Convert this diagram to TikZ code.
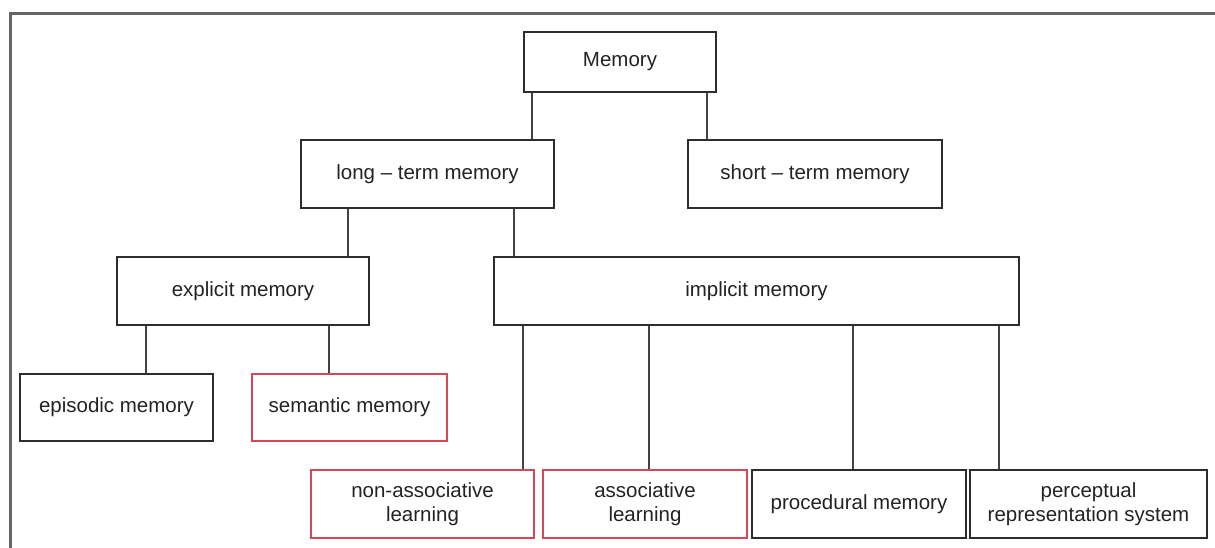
\documentclass[tikz,border=0pt]{standalone}
\usepackage{fontspec}
\setmainfont{Liberation Sans}
\definecolor{boxline}{RGB}{45,45,45}
\definecolor{redline}{RGB}{214,72,88}
\definecolor{textgray}{RGB}{35,35,35}

\begin{document}
\begin{tikzpicture}[x=1pt, y=-1pt,
    box/.style={draw=boxline, line width=2pt, rectangle, inner sep=0pt,
                align=center, text=textgray, font=\fontsize{20.5}{24.5}\selectfont},
    redbox/.style={box, draw=redline, line width=1.7pt},
    link/.style={draw=boxline!90, line width=2.6pt}]
          \useasboundingbox (0,0) rectangle (1215,548);
          \draw[black!60, line width=3pt] (10,548) -- (10,14) -- (1215,14);

          \node[box, minimum width=192pt, minimum height=60pt](mem)  at (620,62)    {Memory};
          \node[box, minimum width=253pt, minimum height=68pt](ltm)  at (427.5,174) {long -- term memory};
          \node[box, minimum width=254pt, minimum height=68pt](stm)  at (815,174)   {short -- term memory};
          \node[box, minimum width=252pt, minimum height=68pt](exp)  at (243,291)   {explicit memory};
          \node[box, minimum width=525pt, minimum height=68pt](imp)  at (756.5,291) {implicit memory};
          \node[box, minimum width=193pt, minimum height=67pt](epi)  at (116.5,407.5) {episodic memory};
          \node[redbox, minimum width=195pt, minimum height=67pt](sem)  at (349.5,407.5) {semantic memory};
          \node[redbox, minimum width=223pt, minimum height=68pt](non)  at (422.5,504) {non-associative\\learning};
          \node[redbox, minimum width=204pt, minimum height=68pt](asc)  at (645,504)   {associative\\learning};
          \node[box, minimum width=214pt, minimum height=68pt](prc)  at (859,504)   {procedural memory};
          \node[box, minimum width=237pt, minimum height=68pt](per)  at (1088.5,504) {perceptual\\representation system};

          \draw[link] ([xshift=9pt]mem.south west)   -- ([xshift=9pt]mem.south west |- ltm.north);
          \draw[link] ([xshift=184pt]mem.south west) -- ([xshift=184pt]mem.south west |- stm.north);
          \draw[link] ([xshift=48pt]ltm.south west)  -- ([xshift=48pt]ltm.south west |- exp.north);
          \draw[link] ([xshift=214pt]ltm.south west) -- ([xshift=214pt]ltm.south west |- imp.north);
          \draw[link] ([xshift=30pt]exp.south west)  -- ([xshift=30pt]exp.south west |- epi.north);
          \draw[link] ([xshift=213pt]exp.south west) -- ([xshift=213pt]exp.south west |- sem.north);
          \draw[link] ([xshift=30pt]imp.south west)  -- ([xshift=30pt]imp.south west |- non.north);
          \draw[link] ([xshift=156pt]imp.south west) -- ([xshift=156pt]imp.south west |- asc.north);
          \draw[link] ([xshift=360pt]imp.south west) -- ([xshift=360pt]imp.south west |- prc.north);
          \draw[link] ([xshift=506pt]imp.south west) -- ([xshift=506pt]imp.south west |- per.north);
        \end{tikzpicture}
\end{document}
